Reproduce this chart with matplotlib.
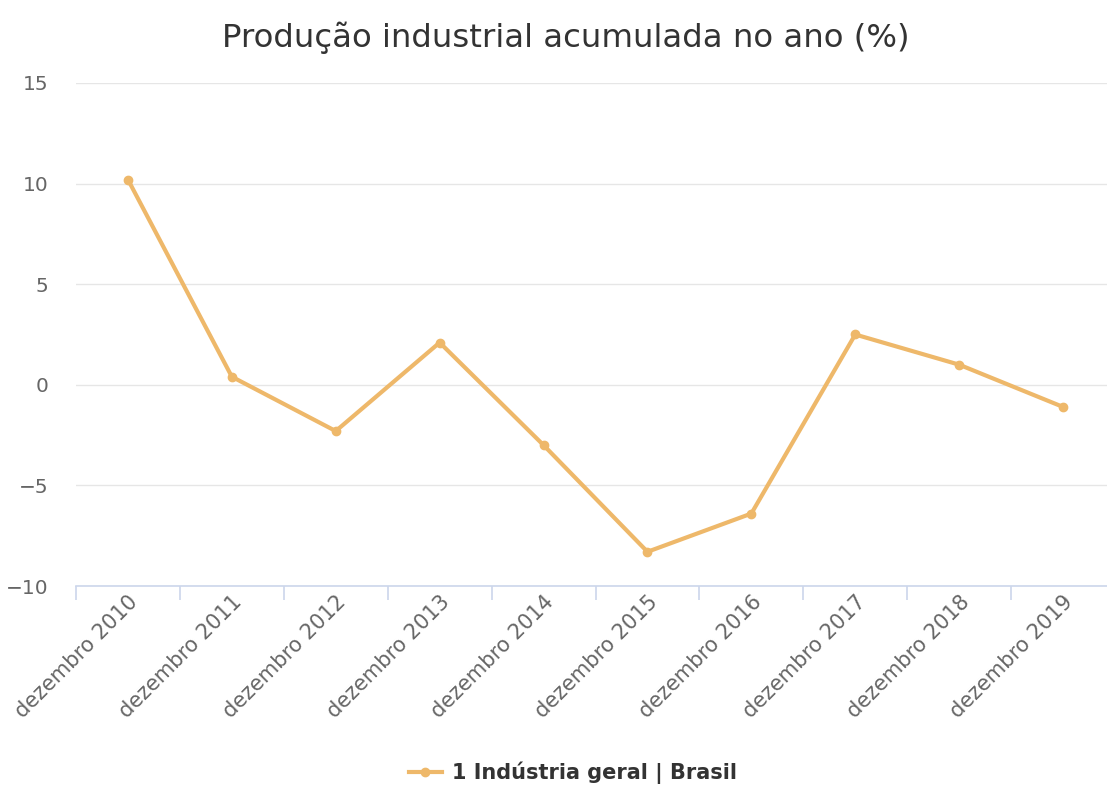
import matplotlib
matplotlib.use("Agg")
import matplotlib.pyplot as plt
from matplotlib.lines import Line2D

categories = ["dezembro 2010", "dezembro 2011", "dezembro 2012", "dezembro 2013",
              "dezembro 2014", "dezembro 2015", "dezembro 2016", "dezembro 2017",
              "dezembro 2018", "dezembro 2019"]
values = [10.2, 0.4, -2.3, 2.1, -3.0, -8.3, -6.4, 2.5, 1.0, -1.1]
yticks = [-10, -5, 0, 5, 10, 15]
series_name = "1 Indústria geral | Brasil"
title = "Produção industrial acumulada no ano (%)"

W, H = 1107, 787
fig = plt.figure(figsize=(W / 100, H / 100), dpi=100)
plt.rcParams['font.family'] = ['DejaVu Sans']

left_px, right_px, top_px, bottom_px = 76, 1115, 83, 586
ax = fig.add_axes([left_px / W, 1 - bottom_px / H, (right_px - left_px) / W, (bottom_px - top_px) / H])

color = '#eeb86a'
x = list(range(len(categories)))
ax.plot(x, values, color=color, lw=3, marker='o', ms=6, mec=color, mfc=color, zorder=3,
        solid_joinstyle='round', clip_on=False)

ax.set_xlim(-0.5, len(categories) - 0.5)
ax.set_ylim(-10, 15)
ax.set_yticks(yticks)
ax.set_yticklabels([f"{v}".replace('-', '\u2212') for v in yticks])
ax.grid(axis='y', color='#e6e6e6', lw=1)
ax.set_axisbelow(True)

for s in ['top', 'right', 'left']:
    ax.spines[s].set_visible(False)
ax.spines['bottom'].set_color('#ccd6eb')
ax.spines['bottom'].set_linewidth(1.2)

# category boundary ticks
ax.set_xticks([i - 0.5 for i in range(len(categories) + 1)], minor=False)
ax.set_xticklabels([])
ax.tick_params(axis='x', which='major', length=10, color='#ccd6eb', width=1.2, direction='out')
ax.set_xticks(x, minor=True)
ax.set_xticklabels(categories, minor=True, rotation=45, ha='right', rotation_mode='anchor',
                   fontsize=15, color='#666666')
ax.tick_params(axis='x', which='minor', length=0, pad=4)
ax.tick_params(axis='y', length=0, pad=20, labelsize=14.5, labelcolor='#666666')

fig.text(566 / W, 1 - 38 / H, title, ha='center', va='center', fontsize=23.3, color='#333333')

handle = Line2D([], [], color=color, lw=3, marker='o', ms=6, mfc=color, mec=color)
leg = fig.legend([handle], [series_name], loc='center', bbox_to_anchor=(573 / W, 1 - 773 / H),
                 frameon=False, handlelength=1.6, handletextpad=0.5,
                 prop={'weight': 'bold', 'size': 15})
for t in leg.get_texts():
    t.set_color('#333333')

fig.savefig('out.png', dpi=100, facecolor='white')
